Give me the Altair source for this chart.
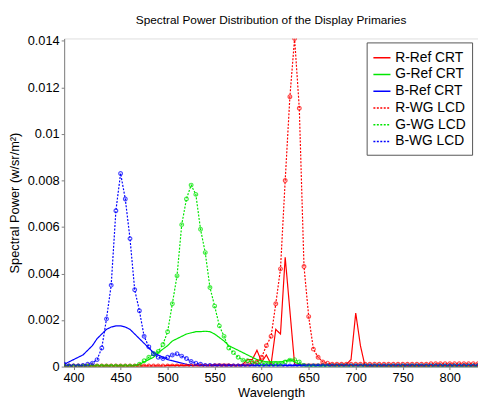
import altair as alt
import pandas as pd

wl = list(range(390, 835, 5))
n = len(wl)

def pad(vals, fill):
    return vals + [fill] * (n - len(vals))

# WG LCD (5 nm samples from 390)
b_wg = pad([0.0001, 0.00003, 0.00003, 0.00003, 0.00005, 0.0001, 0.00015, 0.0003, 0.0008, 0.00205,
            0.0035, 0.0067, 0.0083, 0.0072, 0.0055, 0.0033, 0.0024, 0.0013, 0.00085, 0.00055,
            0.0004, 0.00035, 0.0004, 0.0005, 0.00055, 0.00045, 0.00035, 0.00022, 0.00015, 0.0001,
            0.00005, 0.00005, 0.00004, 0.00004], 0.00003)
g_wg = pad([0.00002] * 16 +
           [0.0001, 0.00025, 0.0004, 0.00055, 0.00065, 0.00095, 0.0015, 0.0027, 0.0039, 0.0061,
            0.0072, 0.0078, 0.0074, 0.0059, 0.0049, 0.0034, 0.0026, 0.00175, 0.0013, 0.0008,
            0.0006, 0.0004, 0.00028, 0.00025, 0.0002, 0.00015, 0.00012, 0.00012, 0.00012, 0.00012,
            0.00012, 0.0002, 0.00028, 0.0003, 0.0002, 0.00005], 0.00003)
r_wg = pad([0.00003] * 39 +
           [0.0001, 0.00015, 0.0002, 0.0004, 0.0009, 0.0013, 0.0027, 0.0042, 0.008, 0.0116,
            0.0141, 0.0111, 0.0043, 0.00215, 0.00075, 0.0004, 0.0002, 0.00015] +
           [0.0001] * 21, 0.00012)

# Ref CRT
r_ref = pad([0.00002] * 22 + [0.00005] * 10 + [0.0001] * 4 + [0.00005] * 2 +
            [0.0001, 0.0003, 0.0003, 0.0007, 0.0002, 0.0005, 0.0001, 0.0016, 0.0014, 0.0047,
             0.0024, 0.0001, 0.0001, 0.0001, 0.0001, 0.0001, 0.0001, 0.0001, 0.0001, 0.0001,
             0.0001, 0.0001, 0.0001, 0.0003, 0.0023, 0.0009, 0.0], 0.0)
g_ref = pad([0.00003] * 15 +
            [0.00005, 0.0001, 0.0002, 0.0003, 0.0004, 0.0006, 0.00075, 0.0009, 0.0011, 0.0012,
             0.0013, 0.0014, 0.00145, 0.0015, 0.0015, 0.00152, 0.0015, 0.0014, 0.00125, 0.0011,
             0.0009, 0.0008, 0.0007, 0.0006, 0.0005, 0.0004, 0.0003, 0.00025, 0.0002, 0.0002,
             0.0002, 0.0002, 0.00025, 0.0003, 0.0002, 0.0001], 0.00003)
b_ref = pad([0.0001, 0.0002, 0.0003, 0.0004, 0.0005, 0.0007, 0.0009, 0.0012, 0.0014, 0.0016,
             0.0017, 0.00175, 0.00175, 0.0017, 0.0016, 0.0014, 0.0012, 0.001, 0.0008, 0.0006,
             0.0005, 0.0004, 0.0003, 0.00025, 0.0002, 0.00015, 0.0001], 0.00005)

series_names = ["R-Ref CRT", "G-Ref CRT", "B-Ref CRT", "R-WG LCD", "G-WG LCD", "B-WG LCD"]
series_colors = ["#ff0000", "#00e600", "#0000ff", "#ff0000", "#00e600", "#0000ff"]
series_dash = [[1, 0], [1, 0], [1, 0], [2, 1.5], [2, 1.5], [2, 1.5]]

rows = []
for name, vals in zip(series_names, [r_ref, g_ref, b_ref, r_wg, g_wg, b_wg]):
    for w, v in zip(wl, vals):
        rows.append({"wl": w, "p": v, "series": name, "wg": "WG" in name})
df = pd.DataFrame(rows)

font = "Liberation Sans"
common = dict(grid=False, tickSize=3, domainColor="#808080", tickColor="#808080",
              labelFont=font, titleFont=font, labelFontSize=13, titleFontSize=13,
              titleFontWeight="normal", labelColor="black", titleColor="black")
x = alt.X("wl:Q", title="Wavelength", scale=alt.Scale(domain=[390, 830], nice=False),
          axis=alt.Axis(values=list(range(400, 850, 50)), labelPadding=2, titlePadding=2, **common))
y = alt.Y("p:Q", title="Spectral Power (w/sr/m²)", scale=alt.Scale(domain=[0, 0.0141], nice=False),
          axis=alt.Axis(values=[0, 0.002, 0.004, 0.006, 0.008, 0.01, 0.012, 0.014],
                        labelExpr="datum.value == 0 ? '0' : format(datum.value, '.3~f')",
                        titlePadding=6, **common))
color = alt.Color("series:N", scale=alt.Scale(domain=series_names, range=series_colors),
                  legend=alt.Legend(title=None, orient="none", legendX=307, legendY=4,
                                    symbolType="stroke", symbolSize=300, symbolStrokeWidth=1.5,
                                    labelFontSize=14, labelFont=font, rowPadding=0,
                                    padding=6, strokeColor="#555", fillColor="white"))
dash = alt.StrokeDash("series:N", scale=alt.Scale(domain=series_names, range=series_dash), legend=None)

lines = alt.Chart(df).mark_line(strokeWidth=1.2, clip=True).encode(
    x=x, y=y, color=color, strokeDash=dash, detail="series:N")
pts = alt.Chart(df).transform_filter("datum.wg").mark_point(size=14, strokeWidth=1.2, clip=True).encode(
    x=x, y=y, color=alt.Color("series:N", scale=alt.Scale(domain=series_names, range=series_colors), legend=None))

chart = (lines + pts).properties(
    width=420, height=333,
    title=alt.Title("Spectral Power Distribution of the Display Primaries", fontSize=12,
                    fontWeight="normal", font=font, offset=8),
).configure_view(stroke="#808080").configure(padding={"left": 0, "top": 3, "right": 0, "bottom": 0})

chart.save("out.html", embed_options={"renderer": "svg", "actions": False})
